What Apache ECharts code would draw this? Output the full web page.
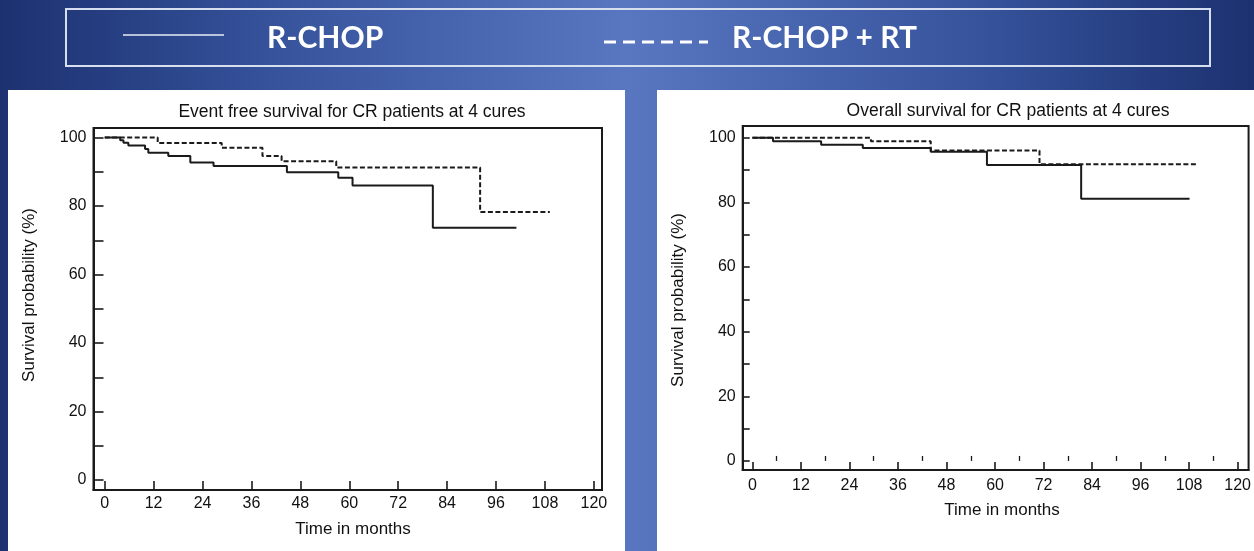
<!DOCTYPE html>
<html><head><meta charset="utf-8">
<script src="https://cdn.jsdelivr.net/npm/echarts@6/dist/echarts.min.js"></script>
<style>html,body{margin:0;padding:0;}#c{width:1254px;height:551px;}</style>
</head><body><div id="c"></div>
<script>
// ---- data ----
const xTicks = [0,12,24,36,48,60,72,84,96,108,120];
const xMinorTicks = [6,18,30,42,54,66,78,90,102,114];
const yLabels = [0,20,40,60,80,100];
const yTicks = [0,10,20,30,40,50,60,70,80,90,100];
const legendNames = ['R-CHOP','R-CHOP + RT'];
const chartTitles = ['Event free survival for CR patients at 4 cures','Overall survival for CR patients at 4 cures'];
const xTitle = 'Time in months';
const yTitle = 'Survival probability (%)';
// Event free survival
const efsRchopTime = [0,3.8,4.6,5.8,9.9,10.7,15.6,21,26.7,44.7,57.3,60.8,80.5,101];
const efsRchopSurv = [100,99.2,98.5,97.7,96.7,95.6,94.6,92.7,91.7,89.9,88.3,86.0,73.7,73.7];
const efsRtTime = [0,13,28.7,38.7,43.4,56.8,92.1,109.2];
const efsRtSurv = [100,98.4,97.0,94.6,93.1,91.3,78.3,78.3];
// Overall survival
const osRchopTime = [0,5.1,17,27.3,44.1,58,81.3,108.1];
const osRchopSurv = [100,98.9,97.8,96.8,95.6,91.5,81.1,81.1];
const osRtTime = [0,29.3,44.1,71,110.2];
const osRtSurv = [100,98.9,96.0,91.8,91.8];

const zip = (t, s) => t.map((v, i) => [v, s[i]]);
const FONT = 'Liberation Sans, Arial, sans-serif';
const black = '#1a1a1a';

function xAx(grid, min, max, tickLen, labelMargin) {
  return {
    type:'value', gridIndex:grid, min:min, max:max,
    axisLine:{show:true, onZero:false, lineStyle:{color:black, width:2}},
    axisTick:{show:true, inside:true, length:tickLen, customValues:xTicks, lineStyle:{color:black, width:1.6}},
    axisLabel:{show:true, customValues:xTicks, color:'#111', fontFamily:FONT, fontSize:16, margin:labelMargin},
    splitLine:{show:false}
  };
}
function xMinor(grid, min, max) {
  return {
    type:'value', gridIndex:grid, min:min, max:max, position:'bottom',
    axisLine:{show:false},
    axisTick:{show:true, inside:true, length:5, customValues:xMinorTicks, lineStyle:{color:black, width:1.3}},
    axisLabel:{show:false}, splitLine:{show:false}
  };
}
function yAx(grid, min, max, tickLen) {
  return {
    type:'value', gridIndex:grid, min:min, max:max,
    axisLine:{show:true, onZero:false, lineStyle:{color:black, width:2}},
    axisTick:{show:true, inside:true, length:tickLen, customValues:yTicks, lineStyle:{color:black, width:1.6}},
    axisLabel:{show:true, customValues:yLabels, color:'#111', fontFamily:FONT, fontSize:16, margin:7},
    splitLine:{show:false}
  };
}
function km(name, data, xi, yi, dashed) {
  return {
    type:'line', name:name, step:'end', data:data, xAxisIndex:xi, yAxisIndex:yi,
    symbol:'none', animation:false,
    lineStyle:{color:black, width:2, type: dashed ? [5,2.5] : 'solid'}
  };
}

const graphic = [
  {type:'rect', z:-100, shape:{x:0,y:0,width:1254,height:551},
   style:{fill:{type:'linear',x:0,y:0,x2:1,y2:0,colorStops:[
     {offset:0,color:'#1c3170'},{offset:0.22,color:'#36539c'},{offset:0.5,color:'#5877c0'},
     {offset:0.78,color:'#36539c'},{offset:1,color:'#1c3170'}]}}},
  {type:'rect', z:-90, shape:{x:66,y:9,width:1144,height:57}, style:{fill:'none', stroke:'#d6def0', lineWidth:2}},
  {type:'line', z:-80, shape:{x1:123,y1:35,x2:224,y2:35}, style:{stroke:'#e8ecf6', lineWidth:1.5}},
  {type:'line', z:-80, shape:{x1:604,y1:42,x2:708,y2:42}, style:{stroke:'#ffffff', lineWidth:3, lineDash:[12,7]}},
  {type:'text', z:-80, x:267, y:38, style:{text:legendNames[0], fill:'#fff', font:'bold 30px Lato, sans-serif', textVerticalAlign:'middle'}},
  {type:'text', z:-80, x:732, y:38, style:{text:legendNames[1], fill:'#fff', font:'bold 30px Lato, sans-serif', textVerticalAlign:'middle'}},
  {type:'rect', z:-90, shape:{x:8,y:90,width:617,height:470}, style:{fill:'#ffffff'}},
  {type:'rect', z:-90, shape:{x:657,y:90,width:600,height:470}, style:{fill:'#ffffff'}},
  {type:'text', z:-80, x:352, y:112, style:{text:chartTitles[0], fill:'#111', font:'17.5px '+FONT, textAlign:'center', textVerticalAlign:'middle'}},
  {type:'text', z:-80, x:1008, y:111, style:{text:chartTitles[1], fill:'#111', font:'17.5px '+FONT, textAlign:'center', textVerticalAlign:'middle'}},
  {type:'text', z:-80, x:353, y:529, style:{text:xTitle, fill:'#111', font:'17px '+FONT, textAlign:'center', textVerticalAlign:'middle'}},
  {type:'text', z:-80, x:1002, y:510, style:{text:xTitle, fill:'#111', font:'17px '+FONT, textAlign:'center', textVerticalAlign:'middle'}},
  {type:'text', z:-80, x:29, y:295, rotation:Math.PI/2, style:{text:yTitle, fill:'#111', font:'17px '+FONT, textAlign:'center', textVerticalAlign:'middle'}},
  {type:'text', z:-80, x:678, y:300, rotation:Math.PI/2, style:{text:yTitle, fill:'#111', font:'17px '+FONT, textAlign:'center', textVerticalAlign:'middle'}}
];

const chart = echarts.init(document.getElementById('c'), null, {renderer:'canvas'});
chart.setOption({
  animation:false,
  backgroundColor:'transparent',
  graphic: graphic,
  grid:[
    {left:93.5, top:128, width:508.5, height:362, show:true, borderColor:black, borderWidth:2, backgroundColor:'transparent'},
    {left:742.7, top:126, width:508.3, height:344, show:true, borderColor:black, borderWidth:2, backgroundColor:'transparent'}
  ],
  xAxis:[
    xAx(0, -2.75, 122, 9, 6),
    xAx(1, -2.4, 122.7, 8, 8),
    xMinor(1, -2.4, 122.7)
  ],
  yAxis:[
    yAx(0, -2.9, 102.8, 10),
    yAx(1, -2.8, 103.6, 7)
  ],
  series:[
    km(legendNames[0], zip(efsRchopTime, efsRchopSurv), 0, 0, false),
    km(legendNames[1], zip(efsRtTime, efsRtSurv), 0, 0, true),
    km(legendNames[0], zip(osRchopTime, osRchopSurv), 1, 1, false),
    km(legendNames[1], zip(osRtTime, osRtSurv), 1, 1, true)
  ]
});
</script></body></html>
